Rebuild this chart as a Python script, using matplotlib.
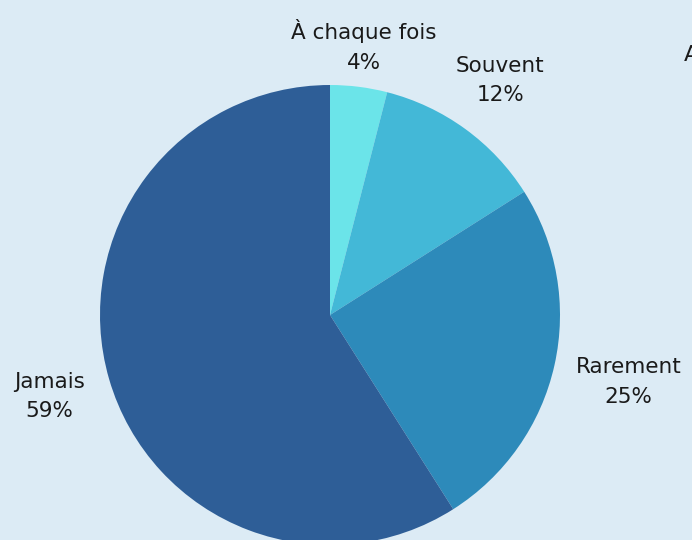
import numpy as np
import matplotlib.pyplot as plt

# Share of answers, clockwise from the top
categories = ['À chaque fois', 'Souvent', 'Rarement', 'Jamais']
shares = [4, 12, 25, 59]
colors = ['#6be4e9', '#43b8d7', '#2d8aba', '#2e5e97']
# distance of each label from the centre, as a fraction of the radius
label_dist = [1.18, 1.26, 1.33, 1.27]

plt.rcParams['font.family'] = ['DejaVu Sans']

W, H = 692, 540
bg = '#dcebf5'
fig = plt.figure(figsize=(W / 100, H / 100), dpi=100, facecolor=bg)
ax = fig.add_axes([0, 0, 1, 1])
ax.set_facecolor(bg)

cx, cy, R = 330, H - 315, 230
wedges, _ = ax.pie(shares, colors=colors, startangle=90, counterclock=False,
                   center=(cx, cy), radius=R, frame=True,
                   wedgeprops=dict(linewidth=0))
ax.set_xlim(0, W)
ax.set_ylim(0, H)
ax.set_aspect('equal')
ax.axis('off')

# labels outside each slice
for w, name, pct, d in zip(wedges, categories, shares, label_dist):
    mid = np.deg2rad((w.theta1 + w.theta2) / 2)
    x = cx + d * R * np.cos(mid)
    y = cy + d * R * np.sin(mid)
    ax.text(x, y, f'{name}\n{pct}%', ha='center', va='center',
            fontsize=15.5, color='#1a1a1a', linespacing=1.6)

# title cut off at the right edge, as in the original
ax.text(684, H - 55, 'A', ha='left', va='center', fontsize=16, color='#1a1a1a')

fig.savefig('out.png', dpi=100, facecolor=bg)
